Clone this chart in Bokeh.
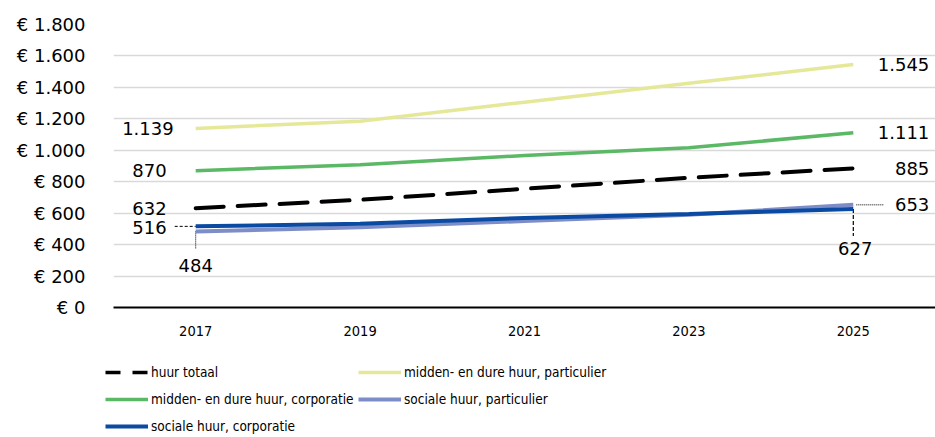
from bokeh.plotting import figure
from bokeh.layouts import column
from bokeh.models import Range1d, FixedTicker, CustomJSTickFormatter, Legend, LegendItem, ColumnDataSource
from bokeh.core.properties import value
from bokeh.embed import file_html
from bokeh.resources import INLINE

# ---- data ----
years = [2017, 2019, 2021, 2023, 2025]
huur_totaal = [632, 685, 755, 825, 885]
midden_particulier = [1139, 1185, 1306, 1427, 1545]
midden_corporatie = [870, 908, 967, 1016, 1111]
sociaal_particulier = [484, 510, 550, 590, 653]
sociaal_corporatie = [516, 532, 570, 594, 627]
y_ticks = [0, 200, 400, 600, 800, 1000, 1200, 1400, 1600, 1800]

names = {
    "totaal": "huur totaal",
    "midden_part": "midden- en dure huur, particulier",
    "midden_corp": "midden- en dure huur, corporatie",
    "sociaal_part": "sociale huur, particulier",
    "sociaal_corp": "sociale huur, corporatie",
}

# ---- styles ----
C_TOT = "#000000"
C_MP = "#E5E898"
C_MC = "#5BB865"
C_SP = "#7D8DC8"
C_SC = "#0B4AA2"
NUM_FONT = "DejaVu Sans"
NARROW_FONT = "DejaVu Sans Condensed, Liberation Sans Narrow, Liberation Sans"

W = 935
H_MAIN, H_LEG = 343, 94
B_LEFT, B_RIGHT, B_TOP, B_BOTTOM = 113, 0, 24, 36
X0, X1 = 2016, 2026
Y0, Y1 = 0, 1800
px_x = (W - B_LEFT - B_RIGHT) / (X1 - X0)
px_y = (H_MAIN - B_TOP - B_BOTTOM) / (Y1 - Y0)

p = figure(width=W, height=H_MAIN, x_range=Range1d(X0, X1), y_range=Range1d(Y0, Y1),
           output_backend="svg", toolbar_location=None,
           min_border_left=B_LEFT, min_border_right=B_RIGHT,
           min_border_top=B_TOP, min_border_bottom=B_BOTTOM)
p.outline_line_color = None
p.background_fill_color = "white"
p.border_fill_color = "white"
p.frame_align = False

# axes
p.xaxis.ticker = FixedTicker(ticks=years)
p.xaxis.axis_line_color = "black"
p.xaxis.axis_line_width = 2
p.xaxis.major_tick_line_color = None
p.xaxis.minor_tick_line_color = None
p.xaxis.major_label_text_font = NARROW_FONT
p.xaxis.major_label_text_font_size = "14.5px"
p.xaxis.major_label_text_color = "black"
p.xaxis.major_label_standoff = 12

p.yaxis.ticker = FixedTicker(ticks=y_ticks)
p.yaxis.formatter = CustomJSTickFormatter(code="""
return "\u20ac " + tick.toFixed(0).replace(/\\B(?=(\\d{3})+(?!\\d))/g, ".");
""")
p.yaxis.axis_line_color = None
p.yaxis.major_tick_line_color = None
p.yaxis.minor_tick_line_color = None
p.yaxis.major_label_text_font = NUM_FONT
p.yaxis.major_label_text_font_size = "18px"
p.yaxis.major_label_text_color = "black"
p.yaxis.major_label_standoff = 22

p.xgrid.visible = False
p.ygrid.grid_line_color = "#D9D9D9"
p.ygrid.grid_line_width = 1.5

# ---- leader lines (drawn below series) ----
def dx(px):
    return px / px_x

def dy(px):
    return px / px_y

p.segment(x0=[years[0] - dx(21)], y0=[sociaal_corporatie[0]], x1=[years[0]], y1=[sociaal_corporatie[0]],
          line_color="black", line_width=1, line_dash="3 2")
p.segment(x0=[years[0]], y0=[sociaal_particulier[0]], x1=[years[0]], y1=[sociaal_particulier[0] - dy(17)],
          line_color="black", line_width=1, line_dash="1 1")
p.segment(x0=[years[-1] + dx(3)], y0=[sociaal_particulier[-1]], x1=[years[-1] + dx(30)], y1=[sociaal_particulier[-1]],
          line_color="black", line_width=1, line_dash="1 1")
p.segment(x0=[years[-1]], y0=[sociaal_corporatie[-1]], x1=[years[-1]], y1=[sociaal_corporatie[-1] - dy(27)],
          line_color="black", line_width=1.2, line_dash="4 2")

# ---- series ----
series_style = {
    "midden_part": dict(line_color=C_MP, line_width=3.5),
    "midden_corp": dict(line_color=C_MC, line_width=3.5),
    "totaal": dict(line_color=C_TOT, line_width=4, line_dash="28 14", line_cap="round"),
    "sociaal_part": dict(line_color=C_SP, line_width=4),
    "sociaal_corp": dict(line_color=C_SC, line_width=4),
}
p.line(years, midden_particulier, **series_style["midden_part"])
p.line(years, midden_corporatie, **series_style["midden_corp"])
p.line(years, huur_totaal, **series_style["totaal"])
p.line(years, sociaal_particulier, **series_style["sociaal_part"])
p.line(years, sociaal_corporatie, **series_style["sociaal_corp"])

# ---- data labels ----
def fmt(v):
    return f"{v:,}".replace(",", ".")

start_vals = [midden_particulier[0], midden_corporatie[0], huur_totaal[0], sociaal_corporatie[0], sociaal_particulier[0]]
start_xoff = [-22, -29, -29, -29, 0]
start_yoff = [0, 0, 0, 1, 34]
start_align = ["right", "right", "right", "right", "center"]

end_vals = [midden_particulier[-1], midden_corporatie[-1], huur_totaal[-1], sociaal_particulier[-1], sociaal_corporatie[-1]]
end_xoff = [76, 76, 76, 76, 2]
end_yoff = [0, 0, 0, 0, 40]
end_align = ["right", "right", "right", "right", "center"]

lab_src = ColumnDataSource(dict(
    x=[years[0]] * len(start_vals) + [years[-1]] * len(end_vals),
    y=start_vals + end_vals,
    t=[fmt(v) for v in start_vals + end_vals],
    xo=start_xoff + end_xoff,
    yo=start_yoff + end_yoff,
    al=start_align + end_align,
))
p.text(x="x", y="y", text="t", x_offset="xo", y_offset="yo", text_align="al", source=lab_src,
       text_baseline="middle", text_font=value(NUM_FONT), text_font_size="18px", text_color="black")

# ---- legend figure (below the chart) ----
lf = figure(width=W, height=H_LEG, x_range=Range1d(0, 1), y_range=Range1d(0, 1),
            x_axis_type=None, y_axis_type=None, output_backend="svg", toolbar_location=None,
            min_border_left=0, min_border_right=0, min_border_top=0, min_border_bottom=0)
lf.outline_line_color = None
lf.grid.visible = False
lf.background_fill_color = "white"
lf.border_fill_color = "white"
lf.frame_align = False

def dummy(key, **over):
    st = dict(series_style[key])
    st.update(over)
    src = ColumnDataSource(dict(x=[float("nan")], y=[float("nan")]))
    return lf.line(x="x", y="y", source=src, **st)

l_tot = dummy("totaal", line_dash="15 12", line_cap="butt", line_width=3.5)
l_mc = dummy("midden_corp")
l_sc = dummy("sociaal_corp")
l_mp = dummy("midden_part")
l_sp = dummy("sociaal_part")

def style_legend(leg):
    leg.label_text_font = NARROW_FONT
    leg.label_text_font_size = "13.5px"
    leg.label_text_color = "black"
    leg.glyph_width = 43
    leg.glyph_height = 20
    leg.label_height = 20
    leg.label_standoff = 3
    leg.spacing = 7
    leg.padding = 0
    leg.margin = 0
    leg.border_line_color = None
    leg.background_fill_alpha = 0

leg_a = Legend(items=[
    LegendItem(label=names["totaal"], renderers=[l_tot]),
    LegendItem(label=names["midden_corp"], renderers=[l_mc]),
    LegendItem(label=names["sociaal_corp"], renderers=[l_sc]),
], location=(105, 1))
leg_b = Legend(items=[
    LegendItem(label=names["midden_part"], renderers=[l_mp]),
    LegendItem(label=names["sociaal_part"], renderers=[l_sp]),
], location=(358, 28))
style_legend(leg_a)
style_legend(leg_b)
lf.add_layout(leg_a)
lf.add_layout(leg_b)

layout = column(p, lf, spacing=0)
open("out.html", "w").write(file_html(layout, INLINE))
